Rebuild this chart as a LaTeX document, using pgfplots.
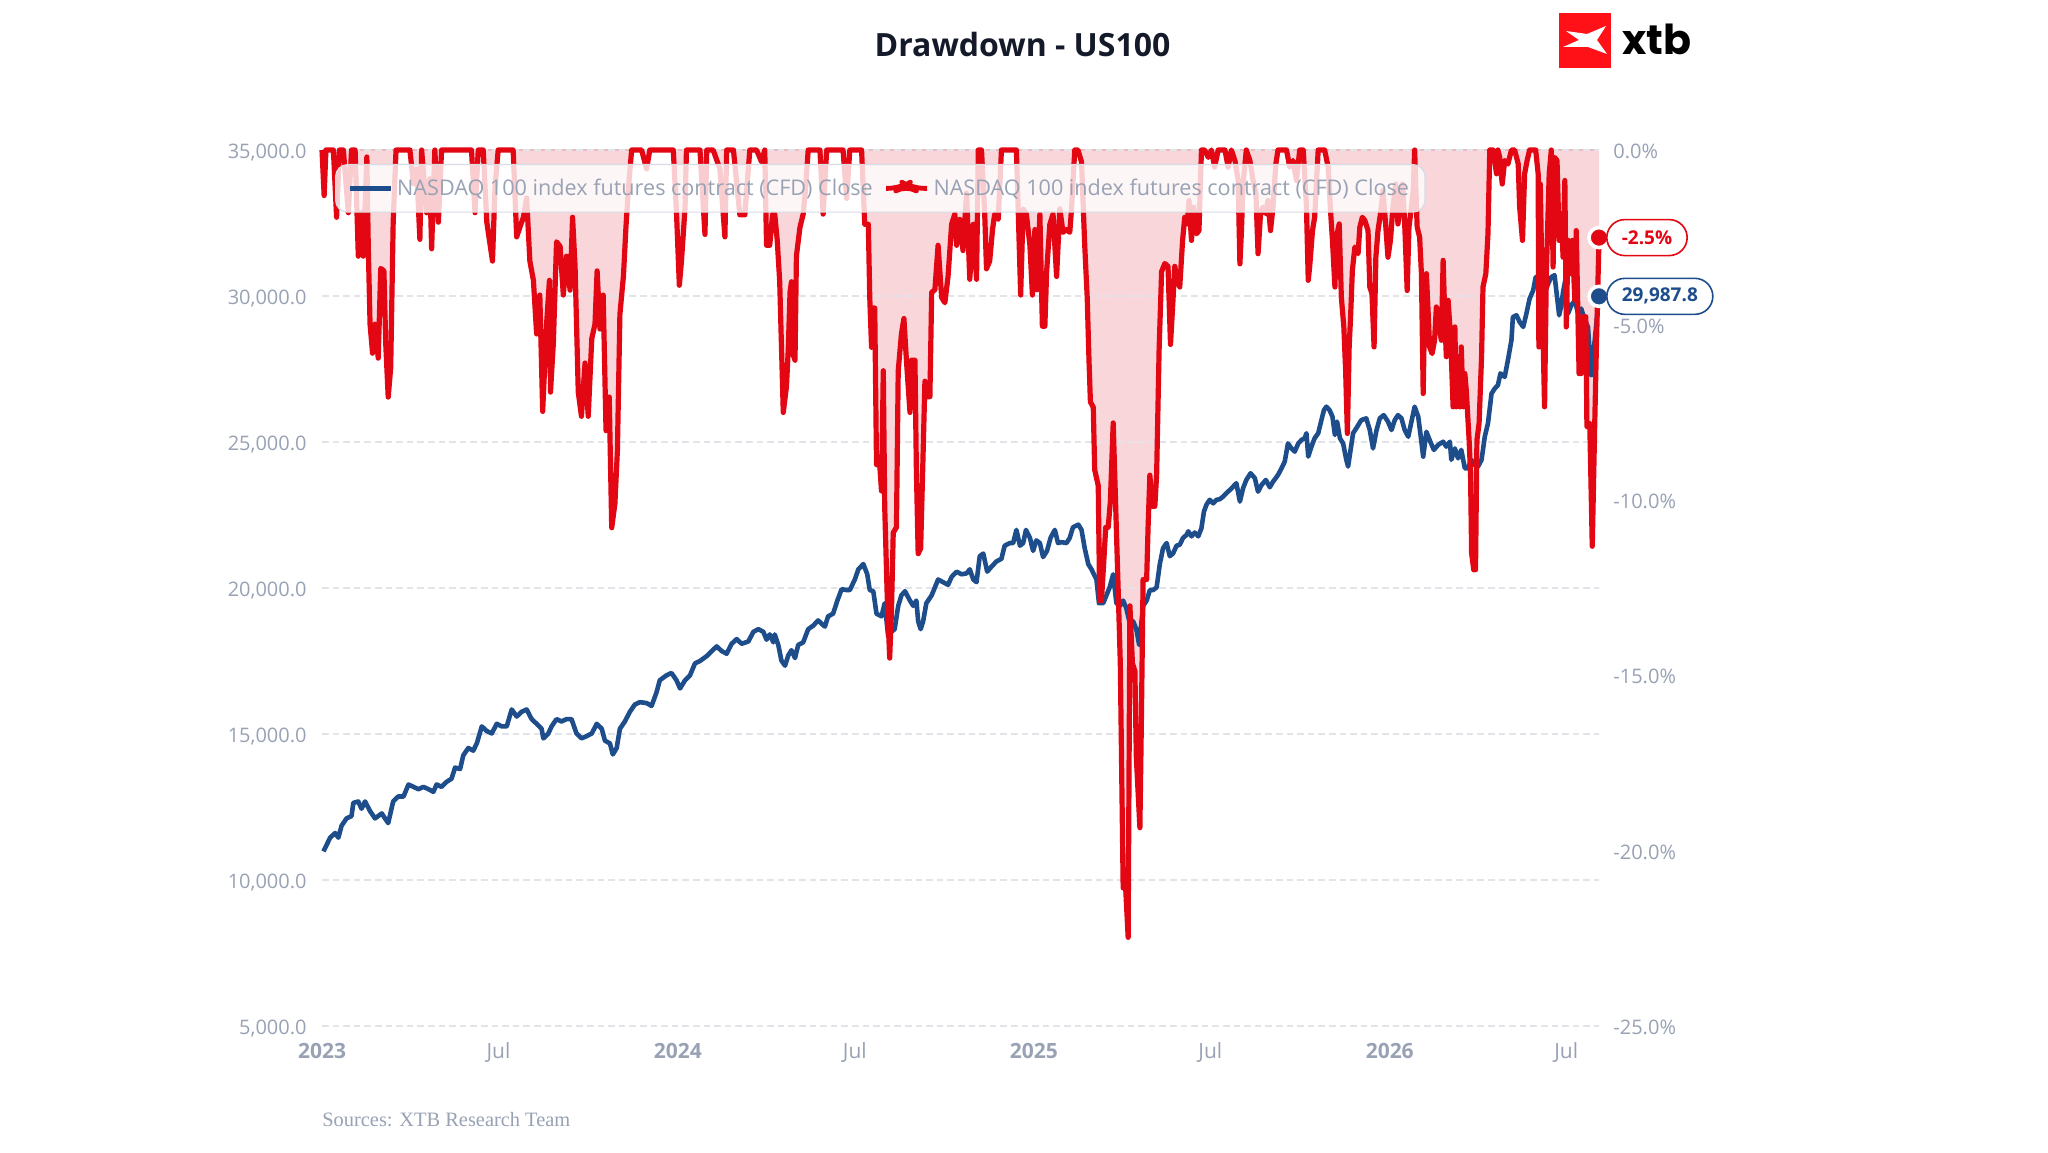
\documentclass[border=0pt]{standalone}
\usepackage{fontspec}
\setmainfont{Open Sans}
\newfontfamily\seriffont{Liberation Serif}
\newfontfamily\logofont{Poppins}
\usepackage{pgfplots}
\usepackage{pgfplotstable}
\pgfplotsset{compat=1.18}

\definecolor{ddred}{RGB}{227,6,19}
\definecolor{pblue}{RGB}{30,77,140}
\definecolor{pinkfill}{RGB}{249,214,217}
\definecolor{pinkedge}{RGB}{232,188,193}
\definecolor{tickgray}{RGB}{152,162,180}
\definecolor{gridgray}{RGB}{226,228,234}
\definecolor{titlecol}{RGB}{20,26,42}
\definecolor{logored}{RGB}{255,17,23}
\definecolor{legborder}{RGB}{216,220,228}

\pgfplotstableread{
yr px
2023.004 10980
2023.023 11450
2023.037 11610
2023.046 11450
2023.055 11860
2023.069 12110
2023.083 12190
2023.088 12640
2023.102 12690
2023.111 12440
2023.121 12690
2023.135 12360
2023.149 12110
2023.168 12280
2023.177 12110
2023.186 11950
2023.200 12690
2023.214 12860
2023.229 12860
2023.243 13270
2023.257 13190
2023.271 13110
2023.285 13190
2023.299 13110
2023.313 13020
2023.322 13270
2023.336 13190
2023.350 13360
2023.364 13470
2023.374 13850
2023.388 13800
2023.397 14270
2023.411 14520
2023.425 14430
2023.435 14680
2023.449 15260
2023.463 15100
2023.477 15020
2023.491 15350
2023.505 15260
2023.519 15260
2023.533 15840
2023.547 15600
2023.561 15760
2023.575 15840
2023.589 15510
2023.603 15350
2023.617 15180
2023.622 14850
2023.636 15020
2023.645 15260
2023.659 15510
2023.673 15430
2023.687 15510
2023.701 15510
2023.715 15020
2023.729 14850
2023.744 14930
2023.758 15020
2023.772 15350
2023.786 15180
2023.795 14770
2023.809 14680
2023.817 14300
2023.828 14520
2023.837 15180
2023.851 15430
2023.865 15760
2023.879 16010
2023.893 16090
2023.912 16060
2023.926 15960
2023.940 16430
2023.949 16840
2023.968 17010
2023.982 17090
2023.996 16840
2024.006 16560
2024.020 16840
2024.034 17010
2024.048 17420
2024.062 17500
2024.081 17670
2024.095 17840
2024.109 18000
2024.123 17840
2024.137 17750
2024.151 18090
2024.165 18250
2024.179 18090
2024.198 18170
2024.212 18500
2024.226 18590
2024.240 18500
2024.249 18230
2024.258 18410
2024.268 18140
2024.272 18410
2024.282 18050
2024.291 17510
2024.301 17340
2024.310 17690
2024.319 17870
2024.329 17600
2024.338 18050
2024.352 18140
2024.366 18590
2024.380 18710
2024.394 18890
2024.404 18770
2024.413 18680
2024.422 19030
2024.436 19120
2024.448 19570
2024.460 19960
2024.474 19930
2024.483 19930
2024.497 20290
2024.507 20640
2024.521 20820
2024.532 20470
2024.539 19930
2024.549 19890
2024.558 19120
2024.572 19030
2024.581 19480
2024.591 18320
2024.600 18500
2024.609 18590
2024.619 19390
2024.628 19750
2024.638 19890
2024.652 19570
2024.661 19390
2024.670 19570
2024.675 18860
2024.682 18590
2024.689 18860
2024.698 19480
2024.713 19750
2024.722 20020
2024.731 20290
2024.745 20200
2024.759 20110
2024.769 20380
2024.783 20560
2024.797 20470
2024.811 20500
2024.820 20640
2024.830 20290
2024.839 20200
2024.848 21090
2024.858 21180
2024.869 20560
2024.881 20730
2024.895 20910
2024.909 21000
2024.918 21450
2024.933 21540
2024.942 21540
2024.951 21990
2024.961 21450
2024.970 21540
2024.978 21990
2024.989 21720
2024.998 21270
2025.007 21630
2025.017 21540
2025.026 21060
2025.037 21270
2025.047 21720
2025.059 21990
2025.068 21540
2025.078 21570
2025.092 21540
2025.101 21720
2025.110 22080
2025.125 22170
2025.134 21990
2025.143 21360
2025.153 20820
2025.162 20640
2025.176 20290
2025.183 19480
2025.195 19480
2025.204 19750
2025.213 20020
2025.223 20470
2025.232 19480
2025.242 19390
2025.251 19570
2025.260 19300
2025.270 18770
2025.279 18860
2025.288 18590
2025.296 18050
2025.307 19390
2025.317 19570
2025.326 19930
2025.335 19930
2025.345 20020
2025.354 20820
2025.363 21360
2025.373 21540
2025.382 21090
2025.391 21180
2025.401 21450
2025.410 21480
2025.419 21710
2025.429 21820
2025.434 21940
2025.443 21770
2025.452 21900
2025.462 21770
2025.471 22050
2025.478 22620
2025.485 22850
2025.494 23020
2025.504 22900
2025.513 23020
2025.522 23040
2025.532 23130
2025.541 23250
2025.551 23360
2025.560 23470
2025.569 23590
2025.579 22960
2025.588 23420
2025.597 23700
2025.609 23930
2025.621 23760
2025.630 23300
2025.640 23530
2025.652 23700
2025.663 23450
2025.672 23640
2025.686 23870
2025.696 24100
2025.705 24330
2025.714 24950
2025.724 24780
2025.733 24670
2025.743 24950
2025.752 25070
2025.761 25130
2025.766 25300
2025.771 24500
2025.780 24840
2025.789 25130
2025.799 25300
2025.808 25750
2025.815 26090
2025.822 26210
2025.831 26090
2025.839 25870
2025.846 25240
2025.852 25700
2025.860 25130
2025.869 24950
2025.878 24390
2025.883 24160
2025.890 24730
2025.897 25300
2025.906 25470
2025.920 25750
2025.934 25810
2025.944 25410
2025.953 24780
2025.963 25410
2025.972 25810
2025.983 25920
2025.995 25700
2026.005 25410
2026.014 25750
2026.023 25920
2026.033 25810
2026.042 25410
2026.052 25180
2026.061 25700
2026.070 26210
2026.080 25870
2026.086 25300
2026.094 24500
2026.103 25350
2026.112 25070
2026.124 24730
2026.136 24900
2026.150 25010
2026.159 24840
2026.169 25010
2026.173 24390
2026.183 24780
2026.192 24440
2026.201 24730
2026.211 24100
2026.220 24100
2026.229 24390
2026.239 24210
2026.248 24160
2026.258 24390
2026.267 25180
2026.276 25640
2026.286 26660
2026.295 26830
2026.304 26950
2026.311 27350
2026.323 27230
2026.332 27800
2026.342 28490
2026.346 29280
2026.356 29340
2026.365 29110
2026.375 28940
2026.384 29400
2026.393 29910
2026.403 30190
2026.410 30650
2026.417 30360
2026.426 29850
2026.435 30080
2026.445 30420
2026.454 30650
2026.463 30710
2026.468 30190
2026.476 29340
2026.482 29680
2026.487 30140
2026.494 30590
2026.501 29400
2026.510 29680
2026.520 29850
2026.529 29400
2026.538 29570
2026.548 29170
2026.557 28940
2026.566 27290
2026.576 28490
2026.588 29987.8
}\pxtable

\pgfplotstableread{
yr dd
2023.000 0
2023.006 -1.30
2023.011 0
2023.032 0
2023.041 -1.92
2023.049 0
2023.060 0
2023.074 -1.79
2023.083 0
2023.093 0
2023.102 -3.03
2023.111 -1.79
2023.116 -3.03
2023.126 -0.2
2023.130 -2.75
2023.135 -4.97
2023.142 -5.80
2023.149 -4.97
2023.158 -5.94
2023.165 -3.38
2023.174 -3.45
2023.179 -5.52
2023.186 -7.05
2023.193 -6.22
2023.200 -2.06
2023.208 0
2023.219 0
2023.236 0
2023.247 0
2023.257 -0.96
2023.266 -0.54
2023.275 -2.55
2023.280 0
2023.294 -1.79
2023.303 -0.82
2023.308 -2.82
2023.317 0
2023.327 -2.06
2023.336 0
2023.350 0
2023.364 0
2023.378 0
2023.392 0
2023.406 0
2023.420 0
2023.430 -1.79
2023.439 0
2023.453 0
2023.463 -2.06
2023.479 -3.17
2023.486 -1.09
2023.495 0
2023.509 0
2023.528 0
2023.537 0
2023.547 -2.48
2023.556 -2.20
2023.566 -1.92
2023.575 -1.37
2023.584 -3.17
2023.594 -3.72
2023.603 -5.25
2023.612 -4.14
2023.620 -7.46
2023.631 -4.97
2023.639 -3.72
2023.642 -6.91
2023.650 -5.52
2023.659 -2.62
2023.669 -2.75
2023.678 -4.14
2023.687 -3.03
2023.697 -4.00
2023.704 -1.92
2023.711 -3.31
2023.720 -6.91
2023.729 -7.60
2023.739 -6.08
2023.748 -7.60
2023.758 -5.38
2023.767 -4.97
2023.773 -3.45
2023.781 -5.11
2023.790 -4.14
2023.798 -8.01
2023.807 -7.05
2023.814 -10.78
2023.823 -10.09
2023.830 -8.57
2023.837 -4.69
2023.847 -3.59
2023.854 -2.20
2023.861 -1.09
2023.870 0
2023.884 0
2023.898 0
2023.912 -0.54
2023.921 0
2023.935 0
2023.950 0
2023.964 0
2023.978 0
2023.987 0
2023.996 -1.79
2024.004 -3.86
2024.010 -3.17
2024.020 -1.65
2024.024 0
2024.043 0
2024.062 0
2024.076 -2.41
2024.081 0
2024.099 0
2024.118 -0.54
2024.132 -2.48
2024.137 0
2024.156 0
2024.174 -1.85
2024.188 -1.85
2024.202 0
2024.221 0
2024.235 -0.34
2024.244 0
2024.249 -2.72
2024.258 -2.72
2024.266 -1.83
2024.272 -1.83
2024.279 -2.57
2024.286 -3.76
2024.296 -7.49
2024.305 -6.75
2024.310 -5.70
2024.315 -4.06
2024.319 -3.76
2024.324 -5.85
2024.329 -6.00
2024.333 -3.02
2024.343 -2.20
2024.352 -1.83
2024.359 -1.08
2024.366 0
2024.380 0
2024.399 0
2024.408 -1.83
2024.418 0
2024.432 0
2024.455 0
2024.464 0
2024.474 -1.38
2024.483 0
2024.497 0
2024.516 0
2024.525 -2.12
2024.535 -2.12
2024.539 -4.21
2024.544 -5.63
2024.549 -4.51
2024.553 -4.51
2024.558 -8.98
2024.567 -8.98
2024.572 -9.73
2024.577 -6.30
2024.581 -10.17
2024.588 -12.71
2024.595 -14.50
2024.600 -13.16
2024.605 -10.92
2024.614 -10.77
2024.619 -6.30
2024.628 -5.25
2024.635 -4.81
2024.642 -6.00
2024.652 -7.49
2024.656 -6.00
2024.666 -6.00
2024.670 -9.13
2024.675 -11.52
2024.682 -11.37
2024.687 -9.43
2024.694 -6.60
2024.700 -7.04
2024.708 -7.04
2024.713 -4.06
2024.722 -3.99
2024.731 -2.72
2024.741 -4.21
2024.750 -4.36
2024.759 -3.61
2024.769 -2.12
2024.778 -1.83
2024.783 -2.72
2024.792 -1.98
2024.801 -2.87
2024.811 -1.23
2024.820 -3.69
2024.830 -2.12
2024.839 -3.69
2024.844 0
2024.853 0
2024.862 -1.83
2024.867 -3.39
2024.876 -3.17
2024.884 -2.27
2024.890 -1.83
2024.900 -1.98
2024.909 0
2024.919 0
2024.933 0
2024.951 0
2024.956 -1.68
2024.963 -4.14
2024.970 -1.68
2024.979 -1.83
2024.989 -2.72
2024.996 -4.14
2025.003 -2.27
2025.009 -3.99
2025.017 -1.83
2025.024 -5.03
2025.031 -5.03
2025.036 -3.47
2025.045 -2.12
2025.054 -1.83
2025.064 -3.61
2025.073 -1.68
2025.082 -2.35
2025.092 -2.27
2025.101 -2.35
2025.106 -1.68
2025.115 0
2025.124 0
2025.134 -0.34
2025.143 -2.72
2025.150 -4.21
2025.155 -6.00
2025.159 -7.19
2025.167 -7.34
2025.171 -9.13
2025.181 -9.58
2025.185 -12.86
2025.190 -12.86
2025.197 -11.66
2025.202 -10.77
2025.209 -10.77
2025.215 -10.03
2025.223 -7.79
2025.230 -10.17
2025.237 -12.56
2025.243 -14.65
2025.251 -21.06
2025.258 -21.06
2025.265 -22.47
2025.270 -13.01
2025.277 -14.65
2025.284 -14.87
2025.288 -17.33
2025.298 -19.34
2025.302 -16.44
2025.307 -12.26
2025.317 -12.26
2025.321 -10.77
2025.326 -9.28
2025.333 -10.17
2025.340 -10.17
2025.345 -9.28
2025.352 -5.70
2025.359 -3.47
2025.368 -3.24
2025.377 -3.32
2025.384 -5.55
2025.389 -4.66
2025.396 -3.32
2025.405 -3.76
2025.410 -3.91
2025.418 -2.58
2025.424 -1.92
2025.431 -2.11
2025.436 -1.44
2025.443 -2.58
2025.449 -1.63
2025.457 -2.39
2025.464 -2.30
2025.471 0
2025.480 0
2025.490 -0.21
2025.499 0
2025.508 -0.49
2025.518 0
2025.537 0
2025.546 -0.49
2025.555 0
2025.565 -0.30
2025.574 -0.87
2025.579 -3.25
2025.583 -2.39
2025.588 -0.97
2025.597 0
2025.607 -0.30
2025.616 -0.87
2025.624 -1.25
2025.630 -2.96
2025.637 -1.82
2025.644 -1.63
2025.652 -1.82
2025.658 -1.44
2025.665 -2.30
2025.672 -1.63
2025.680 -0.40
2025.686 0
2025.710 0
2025.719 -0.49
2025.728 -0.30
2025.738 -0.87
2025.747 0
2025.757 0
2025.766 -1.63
2025.771 -3.72
2025.775 -3.34
2025.783 -2.30
2025.789 -1.92
2025.799 0
2025.817 0
2025.827 -0.49
2025.833 -1.63
2025.839 -2.58
2025.846 -3.91
2025.850 -2.49
2025.858 -2.11
2025.864 -4.20
2025.871 -5.05
2025.876 -6.28
2025.881 -8.09
2025.886 -5.62
2025.890 -4.76
2025.895 -3.44
2025.902 -2.77
2025.911 -2.96
2025.916 -2.20
2025.923 -1.92
2025.930 -2.01
2025.939 -2.30
2025.944 -3.91
2025.950 -4.10
2025.956 -5.62
2025.961 -3.06
2025.967 -2.30
2025.974 -1.82
2025.981 -1.16
2025.989 -2.20
2025.995 -3.06
2026.002 -2.58
2026.009 -1.63
2026.017 -0.97
2026.023 -2.11
2026.030 -1.63
2026.036 -0.97
2026.042 -2.11
2026.049 -4.01
2026.054 -2.20
2026.061 -1.63
2026.066 -1.16
2026.070 0
2026.077 -2.20
2026.084 -2.49
2026.089 -3.53
2026.094 -6.95
2026.098 -4.48
2026.103 -3.53
2026.108 -4.67
2026.112 -5.62
2026.119 -5.81
2026.126 -5.43
2026.131 -4.48
2026.139 -5.05
2026.145 -5.43
2026.150 -3.15
2026.155 -4.86
2026.159 -5.90
2026.164 -4.29
2026.169 -5.05
2026.173 -5.90
2026.178 -7.33
2026.183 -5.05
2026.187 -7.33
2026.192 -5.90
2026.197 -7.33
2026.201 -5.62
2026.206 -7.33
2026.211 -6.38
2026.215 -6.85
2026.223 -8.28
2026.227 -9.23
2026.230 -11.50
2026.236 -11.98
2026.241 -11.98
2026.245 -8.28
2026.251 -7.80
2026.258 -5.90
2026.262 -3.91
2026.270 -3.53
2026.276 -2.39
2026.281 0
2026.290 0
2026.295 -0.30
2026.300 -0.68
2026.304 0
2026.309 -0.21
2026.316 -0.97
2026.323 -0.30
2026.332 -0.40
2026.342 0
2026.351 0
2026.361 -0.40
2026.365 -1.63
2026.373 -2.58
2026.379 -0.68
2026.386 -0.30
2026.393 0
2026.410 0
2026.417 -0.68
2026.419 -5.62
2026.423 -0.97
2026.429 -4.48
2026.435 -7.33
2026.440 -3.53
2026.448 -0.68
2026.454 0
2026.459 -3.34
2026.463 -0.21
2026.470 -0.30
2026.476 -2.58
2026.482 -1.82
2026.487 -3.06
2026.492 -0.87
2026.496 -5.05
2026.501 -2.58
2026.506 -3.53
2026.513 -2.58
2026.520 -4.29
2026.524 -2.30
2026.532 -6.38
2026.538 -6.38
2026.543 -4.76
2026.551 -4.76
2026.554 -7.90
2026.562 -7.80
2026.569 -11.31
2026.576 -7.80
2026.580 -5.90
2026.588 -2.50
}\ddtable

\pgfplotsset{
  base/.style={scale only axis, width=638.5pt, height=438pt,
    at={(161pt,63pt)}, anchor=south west, xmin=2023, xmax=2026.588},
  pct/.style={base, ymin=-25, ymax=0},
  prc/.style={base, ymin=5000, ymax=35000},
}

\begin{document}
\begin{tikzpicture}
\fill[white] (0,0) rectangle (1024pt,576pt);
\useasboundingbox (0,0) rectangle (1024pt,576pt);

% A: drawdown area
\begin{axis}[pct, hide axis]
\addplot[fill=pinkfill, draw=none, forget plot] table[x=yr,y=dd]{\ddtable} \closedcycle;
\addplot[pinkedge, line width=0.9pt, forget plot] coordinates {(2023,0) (2026.588,0)};
\end{axis}

% B: price axis with ticks and grid
\begin{axis}[prc, clip=false,
  axis line style={draw=none}, major tick length=0pt,
  scaled y ticks=false,
  ytick={5000,10000,15000,20000,25000,30000,35000},
  ymajorgrids, grid style={gridgray, dash pattern=on 3.3pt off 2pt, line width=0.6pt},
  xtick={2023,2023.496,2024,2024.497,2025,2025.496,2026,2026.496},
  xticklabels={\textbf{2023},Jul,\textbf{2024},Jul,\textbf{2025},Jul,\textbf{2026},Jul},
  tick label style={text=tickgray},
  yticklabel style={font=\fontsize{10}{12}\selectfont, /pgf/number format/.cd, fixed, fixed zerofill, precision=1, 1000 sep={,}, assume math mode=true, /tikz/.cd, anchor=east, inner sep=0pt, xshift=-7.5pt, yshift=-1.2pt},
  xticklabel style={font=\fontsize{10.5}{12}\selectfont, anchor=base, inner sep=0pt, yshift=-16pt},
]
\addplot[pblue, line width=2.3pt, line join=round] table[x=yr,y=px]{\pxtable};
\end{axis}

% C: drawdown line, right axis, legend
\begin{axis}[pct, clip=false,
  axis x line=none, axis y line*=right, axis line style={draw=none}, major tick length=0pt,
  ytick={-25,-20,-15,-10,-5,0},
  yticklabel={\pgfmathprintnumber[fixed, fixed zerofill, precision=1, assume math mode=true]{\tick}\%},
  yticklabel style={font=\fontsize{10}{12}\selectfont, text=tickgray, anchor=west, inner sep=0pt, xshift=7pt, yshift=-0.6pt},
  legend columns=2,
  legend cell align=left,
  legend style={at={(0,1)}, anchor=north west, xshift=6.5pt, yshift=-7pt,
    draw=legborder, line width=0.6pt, rounded corners=6pt, fill=white, fill opacity=0.8, text opacity=1,
    font=\fontsize{10.8}{12}\selectfont, text=tickgray, inner xsep=6pt, inner ysep=5pt,
    /tikz/every even column/.append style={column sep=3.5pt}},
]
\addlegendimage{legend image code/.code={\draw[pblue, line width=2.3pt] (0pt,0pt) -- (20.5pt,0pt);}}
\addlegendentry{NASDAQ 100 index futures contract (CFD) Close}
\addplot[ddred, line width=2.6pt, line join=round,
  legend image code/.code={\draw[ddred, line width=2.4pt, line join=round] (0pt,0pt) -- (7pt,0pt) -- (10pt,1.8pt) -- (13pt,0pt) -- (20.5pt,0pt);}]
  table[x=yr,y=dd]{\ddtable};
\addlegendentry{NASDAQ 100 index futures contract (CFD) Close}
\addplot[only marks, mark=*, mark size=5pt, mark options={fill=ddred, draw=white, line width=1.8pt},
  nodes near coords={-2.5\%},
  every node near coord/.style={anchor=west, xshift=3.5pt, draw=ddred, line width=0.8pt, fill=white,
    rounded corners=9pt, minimum height=18pt, inner xsep=7.5pt, text=ddred,
    font=\fontsize{9.5}{11}\selectfont\bfseries}, forget plot]
  coordinates {(2026.588,-2.5)};
\end{axis}

% D: blue end marker
\begin{axis}[prc, hide axis, clip=false]
\addplot[only marks, mark=*, mark size=5pt, mark options={fill=pblue, draw=white, line width=1.8pt},
  nodes near coords={29{,}987.8},
  every node near coord/.style={anchor=west, xshift=3.5pt, draw=pblue, line width=0.8pt, fill=white,
    rounded corners=9pt, minimum height=18pt, inner xsep=7.5pt, text=pblue,
    font=\fontsize{9.5}{11}\selectfont\bfseries}]
  coordinates {(2026.588,29987.8)};
\end{axis}

% title
\node[font=\fontsize{16}{19}\selectfont\bfseries, text=titlecol] at (511.25pt,553.5pt) {Drawdown - US100};
% sources
\node[anchor=base west, inner sep=0pt, font=\seriffont\fontsize{10.2}{12}\selectfont, text=tickgray] at (161pt,12.7pt) {Sources: XTB Research Team};
% logo
\fill[logored] (779.5pt,542pt) rectangle (805.5pt,569.5pt);
\fill[white] (783pt,560.5pt) -- (793.5pt,559pt) -- (803pt,563pt) -- (798.5pt,556pt) -- (803.5pt,549pt) -- (794pt,552.5pt) -- (781.5pt,552.5pt) -- (789.5pt,556pt) -- cycle;
\node[anchor=base west, inner sep=0pt] at (811pt,548.5pt) {\resizebox{34.5pt}{!}{\logofont\bfseries xtb}};
\end{tikzpicture}
\end{document}
